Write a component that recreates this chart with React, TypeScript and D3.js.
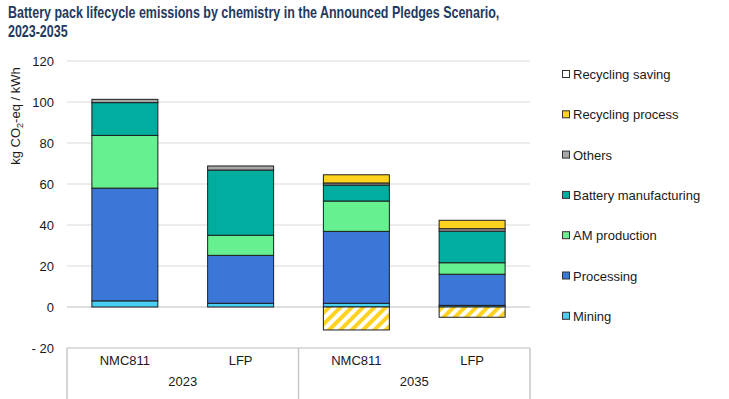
import * as d3 from "d3";

const W = 729;
const H = 399;
const PLOT = { left: 67, right: 530, top: 61, bottom: 348 };

const categories = ["NMC811", "LFP", "NMC811", "LFP"];
const years = ["2023", "2035"];
const yTicks = [120, 100, 80, 60, 40, 20, 0, -20];

// kg CO2-eq / kWh
const mining = [3, 1.8, 1.8, 0.8];
const processing = [55, 23.4, 35.1, 15.2];
const amProduction = [25.7, 9.8, 14.8, 5.6];
const batteryManufacturing = [16, 31.8, 7.8, 15.4];
const others = [1.6, 2, 1, 1.2];
const recyclingProcess = [0, 0, 4, 4.1];
const recyclingSaving = [0, 0, -11.2, -5];

const seriesNames = [
  "Mining",
  "Processing",
  "AM production",
  "Battery manufacturing",
  "Others",
  "Recycling process",
  "Recycling saving",
];
const seriesValues = [
  mining,
  processing,
  amProduction,
  batteryManufacturing,
  others,
  recyclingProcess,
  recyclingSaving,
];
const colors: { [k: string]: string } = {
  Mining: "#48cff4",
  Processing: "#3b77d6",
  "AM production": "#66f08f",
  "Battery manufacturing": "#00ad9f",
  Others: "#a6a6a6",
  "Recycling process": "#ffd31f",
  "Recycling saving": "url(#hatch)",
};

const legendOrder = [...seriesNames].reverse();

export default function App() {
  const rows = categories.map((c, i) => {
    const row: { [k: string]: number | string } = { key: String(i) };
    seriesNames.forEach((s, j) => (row[s] = seriesValues[j][i]));
    return row;
  });

  const stack = d3
    .stack<any>()
    .keys(seriesNames)
    .offset(d3.stackOffsetDiverging);
  const stacked = stack(rows);

  const x = d3
    .scaleBand()
    .domain(categories.map((_, i) => String(i)))
    .range([PLOT.left, PLOT.right])
    .paddingInner(0.43)
    .paddingOuter(0.215);

  const y = d3.scaleLinear().domain([-20, 120]).range([PLOT.bottom, PLOT.top]);

  const groupW = (PLOT.right - PLOT.left) / years.length;
  const font = "'Liberation Sans', Arial, sans-serif";

  return (
    <svg
      width={W}
      height={H}
      style={{ position: "absolute", left: 0, top: 0, background: "#fff" }}
      fontFamily={font}
    >
      <defs>
        <pattern
          id="hatch"
          width={8}
          height={8}
          patternUnits="userSpaceOnUse"
          patternTransform="rotate(45)"
        >
          <rect width={8} height={8} fill="#fff" />
          <rect width={4} height={8} fill="#ffd31f" />
        </pattern>
      </defs>

      <g transform="translate(8,0) scale(0.78,1)">
        <text x={0} y={18} fontSize={16} fontWeight="bold" fill="#1f3a60">
          Battery pack lifecycle emissions by chemistry in the Announced Pledges Scenario,
        </text>
        <text x={0} y={37} fontSize={16} fontWeight="bold" fill="#1f3a60">
          2023-2035
        </text>
      </g>

      {/* gridlines */}
      {yTicks
        .filter((t) => t > -20)
        .map((t) => (
          <line
            key={t}
            x1={PLOT.left}
            x2={PLOT.right}
            y1={y(t)}
            y2={y(t)}
            stroke={t === 0 ? "#bfbfbf" : "#d9d9d9"}
            strokeWidth={1}
          />
        ))}

      {yTicks.map((t) => (
        <text
          key={t}
          x={54}
          y={y(t)}
          dy="0.35em"
          textAnchor="end"
          fontSize={13}
          fill="#1a1a1a"
        >
          {t < 0 ? `- ${Math.abs(t)}` : t}
        </text>
      ))}

      <text
        transform={`translate(20,${116}) rotate(-90)`}
        textAnchor="middle"
        fontSize={13}
        fill="#1a1a1a"
      >
        kg CO
        <tspan fontSize={9} dy={3}>
          2
        </tspan>
        <tspan dy={-3}>-eq / kWh</tspan>
      </text>

      {/* bars */}
      {stacked.map((layer) => (
        <g key={layer.key}>
          {layer.map((d, i) => {
            const h = Math.abs(y(d[0]) - y(d[1]));
            if (h < 0.01) return null;
            return (
              <rect
                key={i}
                x={x(String(i))}
                width={x.bandwidth()}
                y={Math.min(y(d[0]), y(d[1]))}
                height={h}
                fill={colors[layer.key]}
                stroke="#1e1e1e"
                strokeWidth={1}
              />
            );
          })}
        </g>
      ))}

      {/* category axis box */}
      <line
        x1={PLOT.left}
        x2={PLOT.right}
        y1={PLOT.bottom}
        y2={PLOT.bottom}
        stroke="#d0d0d0"
        strokeWidth={1.5}
      />
      {d3.range(years.length + 1).map((k) => (
        <line
          key={k}
          x1={PLOT.left + k * groupW}
          x2={PLOT.left + k * groupW}
          y1={PLOT.bottom}
          y2={H}
          stroke="#c8c8c8"
          strokeWidth={1.5}
        />
      ))}
      {categories.map((c, i) => (
        <text
          key={i}
          x={(x(String(i)) as number) + x.bandwidth() / 2}
          y={365}
          textAnchor="middle"
          fontSize={13}
          fill="#1a1a1a"
        >
          {c}
        </text>
      ))}
      {years.map((yr, k) => (
        <text
          key={yr}
          x={PLOT.left + (k + 0.5) * groupW}
          y={386}
          textAnchor="middle"
          fontSize={13}
          fill="#1a1a1a"
        >
          {yr}
        </text>
      ))}

      {/* legend */}
      {legendOrder.map((s, i) => {
        const cy = 74.5 + i * 40.3;
        return (
          <g key={s}>
            <rect
              x={562.5}
              y={cy - 4}
              width={7}
              height={7}
              fill={s === "Recycling saving" ? "#fff" : colors[s]}
              stroke="#333"
              strokeWidth={1}
            />
            <text x={573} y={cy} dy="0.35em" fontSize={13} fill="#1a1a1a">
              {s}
            </text>
          </g>
        );
      })}
    </svg>
  );
}
